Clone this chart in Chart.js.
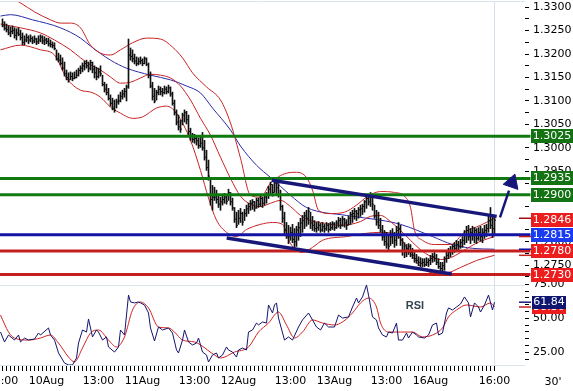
<!DOCTYPE html>
<html lang="en">
<head>
<meta charset="UTF-8">
<title>30' chart with Bollinger bands and RSI</title>
<script src="https://cdn.jsdelivr.net/npm/chart.js"></script>
<style>
  html, body { margin: 0; padding: 0; background: #fff; }
  #wrap { width: 573px; height: 391px; }
</style>
</head>
<body>
<div id="wrap"><canvas id="priceChart" width="573" height="391"></canvas></div>
<script>
// --- price bars (30 min), bar 0 = 9Aug 13:00, bar 246 = 16Aug 16:00 ---
const highs = [
  1.3275,1.3269,1.3264,1.3260,1.3258,1.3260,1.3256,1.3254,1.3256,1.3251,
  1.3245,1.3239,1.3243,1.3239,1.3241,1.3237,1.3239,1.3234,1.3239,1.3241,
  1.3239,1.3237,1.3234,1.3234,1.3230,1.3226,1.3224,1.3209,1.3202,1.3198,
  1.3192,1.3183,1.3166,1.3160,1.3162,1.3160,1.3162,1.3166,1.3170,1.3175,
  1.3181,1.3185,1.3187,1.3183,1.3187,1.3183,1.3175,1.3172,1.3170,1.3175,
  1.3155,1.3140,1.3136,1.3127,1.3113,1.3106,1.3102,1.3104,1.3113,1.3119,
  1.3123,1.3127,1.3134,1.3232,1.3213,1.3209,1.3200,1.3194,1.3192,1.3194,
  1.3190,1.3194,1.3192,1.3181,1.3162,1.3140,1.3127,1.3123,1.3132,1.3130,
  1.3127,1.3132,1.3130,1.3134,1.3130,1.3119,1.3102,1.3081,1.3070,1.3059,
  1.3074,1.3081,1.3078,1.3070,1.3042,1.3031,1.3029,1.3025,1.3021,1.3023,
  1.3033,1.3016,1.2995,1.2974,1.2935,1.2920,1.2916,1.2910,1.2899,1.2895,
  1.2899,1.2903,1.2899,1.2912,1.2905,1.2893,1.2873,1.2863,1.2867,1.2871,
  1.2863,1.2869,1.2878,1.2882,1.2888,1.2890,1.2886,1.2893,1.2893,1.2897,
  1.2895,1.2899,1.2905,1.2918,1.2927,1.2922,1.2933,1.2929,1.2924,1.2910,
  1.2878,1.2863,1.2841,1.2835,1.2831,1.2837,1.2828,1.2833,1.2841,1.2850,
  1.2856,1.2863,1.2867,1.2873,1.2863,1.2854,1.2845,1.2841,1.2843,1.2839,
  1.2841,1.2837,1.2841,1.2839,1.2841,1.2843,1.2841,1.2845,1.2852,1.2850,
  1.2854,1.2850,1.2847,1.2854,1.2863,1.2867,1.2871,1.2867,1.2873,1.2878,
  1.2880,1.2888,1.2897,1.2901,1.2905,1.2901,1.2878,1.2867,1.2863,1.2850,
  1.2835,1.2824,1.2820,1.2813,1.2824,1.2828,1.2820,1.2833,1.2841,1.2835,
  1.2807,1.2798,1.2794,1.2796,1.2794,1.2786,1.2777,1.2773,1.2768,1.2766,
  1.2764,1.2764,1.2766,1.2764,1.2771,1.2775,1.2777,1.2773,1.2764,1.2756,
  1.2756,1.2768,1.2781,1.2786,1.2790,1.2794,1.2798,1.2803,1.2801,1.2805,
  1.2811,1.2824,1.2833,1.2835,1.2828,1.2833,1.2830,1.2828,1.2830,1.2833,
  1.2828,1.2835,1.2837,1.2856,1.2873,1.2856,1.2854
];
const lows = [
  1.3258,1.3251,1.3247,1.3241,1.3237,1.3243,1.3234,1.3230,1.3239,1.3230,
  1.3220,1.3220,1.3226,1.3222,1.3226,1.3222,1.3224,1.3220,1.3222,1.3226,
  1.3222,1.3220,1.3222,1.3217,1.3215,1.3213,1.3209,1.3187,1.3183,1.3177,
  1.3166,1.3153,1.3145,1.3140,1.3145,1.3143,1.3147,1.3149,1.3153,1.3158,
  1.3162,1.3166,1.3170,1.3162,1.3166,1.3160,1.3149,1.3145,1.3149,1.3153,
  1.3132,1.3119,1.3113,1.3102,1.3089,1.3081,1.3076,1.3085,1.3093,1.3098,
  1.3104,1.3108,1.3100,1.3127,1.3187,1.3183,1.3179,1.3175,1.3177,1.3179,
  1.3175,1.3179,1.3175,1.3149,1.3128,1.3102,1.3096,1.3102,1.3113,1.3113,
  1.3110,1.3115,1.3115,1.3117,1.3110,1.3091,1.3070,1.3049,1.3038,1.3033,
  1.3049,1.3055,1.3051,1.3027,1.3016,1.3012,1.3010,1.3006,1.2999,1.3001,
  1.2995,1.2974,1.2952,1.2931,1.2878,1.2867,1.2888,1.2882,1.2873,1.2867,
  1.2878,1.2882,1.2880,1.2888,1.2878,1.2867,1.2841,1.2830,1.2837,1.2841,
  1.2835,1.2845,1.2854,1.2860,1.2867,1.2869,1.2865,1.2871,1.2873,1.2875,
  1.2873,1.2878,1.2882,1.2892,1.2901,1.2897,1.2905,1.2899,1.2895,1.2867,
  1.2841,1.2813,1.2807,1.2796,1.2803,1.2798,1.2786,1.2790,1.2803,1.2811,
  1.2820,1.2828,1.2833,1.2837,1.2828,1.2824,1.2822,1.2820,1.2824,1.2820,
  1.2822,1.2820,1.2824,1.2820,1.2824,1.2826,1.2824,1.2828,1.2831,1.2828,
  1.2833,1.2831,1.2826,1.2835,1.2837,1.2841,1.2848,1.2845,1.2850,1.2854,
  1.2858,1.2863,1.2871,1.2878,1.2875,1.2867,1.2850,1.2835,1.2828,1.2820,
  1.2803,1.2792,1.2786,1.2781,1.2792,1.2796,1.2788,1.2792,1.2807,1.2792,
  1.2771,1.2766,1.2768,1.2773,1.2768,1.2764,1.2756,1.2754,1.2749,1.2747,
  1.2747,1.2747,1.2749,1.2747,1.2751,1.2756,1.2758,1.2751,1.2743,1.2734,
  1.2732,1.2739,1.2756,1.2764,1.2768,1.2773,1.2777,1.2781,1.2781,1.2786,
  1.2788,1.2794,1.2798,1.2803,1.2796,1.2803,1.2798,1.2796,1.2803,1.2801,
  1.2798,1.2807,1.2811,1.2820,1.2828,1.2809,1.2815
];
const closes = [
  1.3260,1.3255,1.3252,1.3245,1.3248,1.3250,1.3240,1.3245,1.3242,1.3235,
  1.3225,1.3230,1.3235,1.3230,1.3233,1.3228,1.3232,1.3226,1.3230,1.3236,
  1.3228,1.3230,1.3227,1.3222,1.3220,1.3218,1.3212,1.3190,1.3187,1.3180,
  1.3170,1.3158,1.3150,1.3145,1.3152,1.3148,1.3150,1.3155,1.3165,1.3170,
  1.3175,1.3180,1.3175,1.3170,1.3182,1.3168,1.3160,1.3152,1.3162,1.3158,
  1.3135,1.3125,1.3118,1.3105,1.3095,1.3085,1.3080,1.3098,1.3100,1.3110,
  1.3115,1.3120,1.3130,1.3198,1.3195,1.3190,1.3185,1.3180,1.3184,1.3186,
  1.3180,1.3190,1.3178,1.3155,1.3132,1.3110,1.3100,1.3118,1.3125,1.3120,
  1.3118,1.3125,1.3120,1.3128,1.3115,1.3095,1.3075,1.3055,1.3045,1.3040,
  1.3070,1.3075,1.3060,1.3035,1.3025,1.3018,1.3020,1.3015,1.3005,1.3010,
  1.3000,1.2980,1.2958,1.2940,1.2890,1.2895,1.2895,1.2890,1.2880,1.2885,
  1.2890,1.2895,1.2886,1.2905,1.2885,1.2872,1.2848,1.2835,1.2850,1.2860,
  1.2842,1.2860,1.2870,1.2875,1.2882,1.2885,1.2872,1.2888,1.2880,1.2892,
  1.2882,1.2895,1.2900,1.2912,1.2922,1.2905,1.2925,1.2915,1.2900,1.2875,
  1.2850,1.2825,1.2815,1.2810,1.2820,1.2805,1.2800,1.2825,1.2830,1.2840,
  1.2845,1.2855,1.2850,1.2865,1.2840,1.2835,1.2828,1.2830,1.2835,1.2825,
  1.2832,1.2828,1.2835,1.2826,1.2830,1.2838,1.2830,1.2840,1.2845,1.2835,
  1.2848,1.2840,1.2835,1.2850,1.2858,1.2860,1.2865,1.2860,1.2868,1.2870,
  1.2875,1.2885,1.2892,1.2885,1.2900,1.2880,1.2855,1.2842,1.2835,1.2825,
  1.2810,1.2800,1.2795,1.2790,1.2810,1.2815,1.2803,1.2824,1.2828,1.2803,
  1.2781,1.2777,1.2786,1.2790,1.2777,1.2771,1.2764,1.2760,1.2756,1.2754,
  1.2756,1.2751,1.2756,1.2760,1.2764,1.2768,1.2764,1.2756,1.2747,1.2743,
  1.2749,1.2764,1.2771,1.2777,1.2781,1.2790,1.2786,1.2794,1.2790,1.2798,
  1.2803,1.2815,1.2824,1.2811,1.2820,1.2813,1.2824,1.2807,1.2820,1.2811,
  1.2820,1.2824,1.2828,1.2845,1.2835,1.2828,1.2846
];

// --- Bollinger bands and moving average (bar index, price) ---
const upperBars = [-1,4,9,16,24,29,34,39,44,49,54,59,65,72,79,85,90,95,102,109,114,119,124,129,134,142,147,152,155,158,164,171,177,182,189,196,201,204,206,210,216,224,231,239,246];
const upperVals = [1.3324,1.3320,1.3309,1.3290,1.3273,1.3266,1.3266,1.3256,1.3219,1.3202,1.3198,1.3209,1.3224,1.3234,1.3232,1.3215,1.3192,1.3160,1.3130,1.3102,1.3053,1.2978,1.2899,1.2895,1.2925,1.2946,1.2948,1.2937,1.2910,1.2867,1.2860,1.2863,1.2878,1.2895,1.2907,1.2905,1.2897,1.2873,1.2824,1.2803,1.2794,1.2794,1.2820,1.2835,1.2850];
const midBars = [-1,9,19,26,34,39,44,49,54,59,64,69,74,79,84,89,94,99,104,109,114,119,124,129,134,139,144,149,154,159,164,169,174,179,184,189,194,199,204,209,214,219,224,229,234,239,246];
const midVals = [1.3264,1.3256,1.3245,1.3230,1.3209,1.3192,1.3177,1.3166,1.3151,1.3138,1.3140,1.3149,1.3157,1.3155,1.3149,1.3132,1.3102,1.3063,1.3027,1.2980,1.2935,1.2897,1.2880,1.2875,1.2882,1.2888,1.2875,1.2856,1.2845,1.2841,1.2837,1.2835,1.2837,1.2843,1.2854,1.2856,1.2843,1.2824,1.2803,1.2783,1.2769,1.2762,1.2766,1.2777,1.2790,1.2801,1.2811];
const lowBars = [-1,9,19,26,32,39,44,49,54,59,65,70,77,82,87,94,99,103,107,112,117,122,129,135,140,144,150,155,160,172,182,189,195,199,204,209,215,222,229,237,246];
const lowVals = [1.3209,1.3219,1.3209,1.3198,1.3149,1.3123,1.3119,1.3108,1.3087,1.3074,1.3063,1.3066,1.3085,1.3089,1.3074,1.3016,1.2952,1.2893,1.2846,1.2820,1.2811,1.2826,1.2837,1.2841,1.2837,1.2796,1.2777,1.2788,1.2803,1.2811,1.2818,1.2820,1.2818,1.2807,1.2775,1.2747,1.2734,1.2734,1.2745,1.2760,1.2771];
const maBars = [-1,4,15,29,39,44,54,62,74,84,92,99,105,114,119,127,134,139,144,152,172,189,199,215,225,235,246];
const maVals = [1.3281,1.3284,1.3273,1.3256,1.3234,1.3217,1.3187,1.3170,1.3155,1.3145,1.3132,1.3117,1.3085,1.3038,1.3004,1.2963,1.2937,1.2918,1.2899,1.2873,1.2856,1.2846,1.2837,1.2811,1.2794,1.2786,1.2784];

// --- RSI and its signal line ---
const rsiBars = [-1,1,3,6,8,9,11,13,16,18,19,23,24,26,28,31,33,35,37,38,40,42,43,45,47,48,50,52,53,56,58,59,61,63,64,66,68,69,71,73,74,76,78,80,83,85,87,88,90,91,93,95,97,98,100,102,103,105,107,108,110,112,113,115,117,118,120,122,123,125,127,128,130,132,133,135,136,137,138,141,143,145,148,150,153,155,157,159,161,163,166,168,170,173,175,177,178,180,182,183,185,187,188,190,192,193,195,197,198,200,202,203,205,207,208,211,213,215,217,218,220,222,223,225,227,229,231,233,234,236,238,239,241,243,245,246];
const rsiVals = [39.9,32.6,37.7,34.0,37.7,32.6,35.5,34.0,34.8,39.2,37.7,42.9,37.7,34.0,24.5,17.1,15.7,15.7,20.8,31.8,41.4,39.9,49.5,36.3,41.4,39.9,34.0,36.3,28.9,25.2,28.9,41.4,37.7,67.1,62.0,61.3,62.0,61.3,59.8,53.9,42.9,33.3,43.6,41.4,42.9,39.2,26.7,24.5,34.0,41.4,32.6,30.4,31.8,35.5,25.2,23.0,17.9,23.0,24.5,20.8,23.0,28.9,26.7,25.2,21.5,26.7,28.2,26.7,39.9,41.4,46.5,45.1,47.3,46.5,59.8,53.9,59.8,61.3,50.2,34.0,36.3,34.0,43.6,48.8,53.9,48.8,43.6,41.4,46.5,43.6,43.6,52.4,50.2,51.0,58.3,64.9,61.3,65.7,74.5,67.1,51.0,48.8,42.9,37.7,36.3,39.9,39.2,46.5,34.0,34.0,39.2,35.5,39.9,37.7,36.3,35.5,37.7,45.1,46.5,37.7,39.2,53.9,57.6,56.1,58.3,60.5,65.7,61.3,51.0,61.3,58.3,54.6,59.8,67.1,56.1,61.84];
const sigBars = [-1,3,6,13,19,24,28,33,36,40,44,48,53,57,61,65,69,73,78,83,86,90,96,99,106,109,116,123,128,133,138,142,146,150,155,160,166,170,175,179,183,187,189,193,199,205,210,215,220,223,227,232,239,244,246];
const sigVals = [52.4,39.9,35.5,34.0,35.5,37.7,31.8,21.5,17.9,28.2,39.2,41.4,34.0,28.9,36.3,56.1,62.0,57.6,43.6,42.9,39.9,34.0,32.6,30.4,23.0,20.8,25.2,28.9,39.9,46.5,54.6,45.1,35.5,39.9,48.8,46.5,45.1,47.3,53.9,61.3,64.9,58.3,46.5,39.9,39.9,39.9,36.3,37.7,42.9,51.0,56.1,59.8,58.3,61.3,58.3];

// --- levels, channel and projection arrow ---
const levelVals = [1.3025, 1.2935, 1.2900, 1.2815, 1.2780, 1.2730];
const boxVals = [1.3025, 1.2935, 1.2900, 1.2846, 1.2815, 1.2780, 1.2730];
const chanUpperBars = [134.6, 247.1];
const chanUpperVals = [1.2931, 1.2854];
const chanLowerBars = [112.1, 224.6];
const chanLowerVals = [1.2808, 1.2731];
const arrowBars = [248.75, 253.25];
const arrowVals = [1.2852, 1.2909];
const arrowHead = { bar: 254.75, val: 1.2926 };

// --- time axis labels ---
const xLabelBars = [0, 22, 48, 70, 96, 118, 144, 166, 192, 214, 246];
const xLabelText = ['13:00', '10Aug', '13:00', '11Aug', '13:00', '12Aug', '13:00', '13Aug', '13:00', '16Aug', '16:00'];

// colours
const GREEN = '#107a10', GREEN_BOX = '#137313';
const RED = '#c41f1f', RED_BOX = '#ec1d1d';
const BLUE = '#1414a4', BLUE_BOX = '#1a3cf0';
const NAVY = '#17177a';
const levelColors = [GREEN, GREEN, GREEN, BLUE, RED, RED];
const boxColors = [GREEN_BOX, GREEN_BOX, GREEN_BOX, RED_BOX, BLUE_BOX, RED_BOX, RED_BOX];

const pts = (xs, ys) => xs.map((x, i) => ({ x: x, y: ys[i] }));

const hourTicks = [];
for (let b = 0; b <= 246; b += 2) hourTicks.push(b);
const priceTicks = [];
for (let k = 0; k <= 23; k++) priceTicks.push(Math.round((1.2725 + k * 0.0025) * 10000) / 10000);
const rsiTicks = [20, 25, 30, 35, 40, 45, 50, 55, 60, 65, 70, 75];

Chart.defaults.font.family = "'DejaVu Sans', sans-serif";
Chart.defaults.font.size = 11;
Chart.defaults.color = '#000';

const line = (data, color, width, extra) => Object.assign({
  type: 'line', data: data, borderColor: color, borderWidth: width,
  pointRadius: 0, fill: false
}, extra || {});

const decor = {
  id: 'decor',
  beforeDatasetsDraw(chart) {
    const { ctx, chartArea } = chart;
    const rsi = chart.scales.rsi;
    ctx.save();
    ctx.strokeStyle = '#dbe5ec';
    ctx.lineWidth = 1;
    [chartArea.top - 0.5, rsi.top + 2.5, rsi.bottom + 0.5].forEach(y => {
      ctx.beginPath();
      ctx.moveTo(0, y);
      ctx.lineTo(chartArea.right, y);
      ctx.stroke();
    });
    ctx.restore();
  },
  afterDraw(chart) {
    const { ctx } = chart;
    const py = chart.scales.y, rsi = chart.scales.rsi;
    ctx.save();

    // short markers of the last indicator values
    const marks = [
      [upperVals, '#a01010', py], [midVals, RED, py], [lowVals, RED, py],
      [maVals, BLUE, py], [rsiVals, NAVY, rsi], [sigVals, RED, rsi]
    ];
    ctx.lineWidth = 1.5;
    marks.forEach(([vals, color, scale]) => {
      const y = scale.getPixelForValue(vals[vals.length - 1]);
      ctx.strokeStyle = color;
      ctx.beginPath();
      ctx.moveTo(519, y);
      ctx.lineTo(531, y);
      ctx.stroke();
    });

    ctx.font = "11px 'DejaVu Sans'";
    ctx.textAlign = 'center';
    ctx.textBaseline = 'middle';
    boxVals.forEach((v, i) => {
      const y = Math.round(py.getPixelForValue(v));
      ctx.fillStyle = boxColors[i];
      ctx.fillRect(531, y - 7, 42, 14);
      ctx.fillStyle = '#fff';
      ctx.fillText(v.toFixed(4), 552, y + 0.5);
    });

    const sigLast = sigVals[sigVals.length - 1];
    const rsiLast = rsiVals[rsiVals.length - 1];
    let y = Math.round(rsi.getPixelForValue(sigLast));
    ctx.fillStyle = RED_BOX;
    ctx.fillRect(532, y - 6, 34, 13);
    ctx.fillStyle = '#fff';
    ctx.fillText(sigLast.toFixed(2), 549, y + 0.5);
    y = Math.round(rsi.getPixelForValue(rsiLast));
    ctx.fillStyle = '#0e1670';
    ctx.fillRect(532, y - 6, 34, 13);
    ctx.fillStyle = '#fff';
    ctx.fillText(rsiLast.toFixed(2), 549, y + 0.5);

    ctx.font = "bold 11px 'Liberation Sans'";
    ctx.fillStyle = '#34444f';
    ctx.fillText('RSI', 415, rsi.top + 23);

    ctx.font = "11px 'DejaVu Sans'";
    ctx.fillStyle = '#000';
    ctx.fillText("30'", 553, 382);
    ctx.restore();
  }
};

new Chart(document.getElementById('priceChart').getContext('2d'), {
  data: {
    datasets: [
      { type: 'scatter', data: [{ x: arrowHead.bar, y: arrowHead.val }], pointStyle: 'triangle',
        pointRotation: 19, pointRadius: 9, pointBackgroundColor: NAVY, pointBorderColor: NAVY,
        pointBorderWidth: 1, clip: false },
      line(pts(arrowBars, arrowVals), NAVY, 2.5, { clip: false }),
      line(pts(chanUpperBars, chanUpperVals), NAVY, 3.5),
      line(pts(chanLowerBars, chanLowerVals), NAVY, 3.5),
      ...levelVals.map((v, i) => line([{ x: -1.25, y: v }, { x: 264, y: v }], levelColors[i], 3,
        { clip: { left: 0, top: 0, right: 6, bottom: 0 } })),
      { type: 'scatter', data: pts(closes.map((c, i) => i), closes), pointStyle: 'dash',
        pointRadius: 1.5, pointBorderWidth: 1, pointBorderColor: '#111', pointBackgroundColor: '#111' },
      { type: 'bar', data: highs.map((h, i) => ({ x: i, y: [lows[i], h] })), backgroundColor: '#111',
        borderWidth: 0, barThickness: 1 },
      line(pts(upperBars, upperVals), '#c82424', 1, { cubicInterpolationMode: 'monotone' }),
      line(pts(midBars, midVals), '#c82424', 1, { cubicInterpolationMode: 'monotone' }),
      line(pts(lowBars, lowVals), '#c82424', 1, { cubicInterpolationMode: 'monotone' }),
      line(pts(maBars, maVals), '#2a2aa8', 1, { cubicInterpolationMode: 'monotone' }),
      line(pts(rsiBars, rsiVals), '#14146e', 1, { yAxisID: 'rsi' }),
      line(pts(sigBars, sigVals), '#d02424', 1, { yAxisID: 'rsi', cubicInterpolationMode: 'monotone' })
    ]
  },
  options: {
    responsive: false,
    animation: false,
    devicePixelRatio: 1,
    events: [],
    layout: { autoPadding: false, padding: { top: 2, right: 0, bottom: 0, left: 0 } },
    plugins: { legend: { display: false }, tooltip: { enabled: false } },
    scales: {
      x: {
        type: 'linear', min: -1.25, max: 261.25, offset: false,
        grid: {
          offset: false, drawOnChartArea: true, tickLength: 6, tickColor: '#000',
          color: c => (c.tick && c.tick.value === 246) ? '#d5e1ea' : 'rgba(0,0,0,0)'
        },
        border: { display: false },
        ticks: {
          autoSkip: false, maxRotation: 0, minRotation: 0, padding: 4, color: '#000',
          callback: v => { const k = xLabelBars.indexOf(v); return k >= 0 ? xLabelText[k] : ''; }
        },
        afterBuildTicks: s => { s.ticks = hourTicks.map(v => ({ value: v })); },
        afterFit: s => { s.height = 26; s.paddingLeft = 0; s.paddingRight = 0; }
      },
      y: {
        type: 'linear', position: 'right', stack: 'panes', stackWeight: 281,
        min: 1.2712, max: 1.3311,
        grid: { drawOnChartArea: false, tickLength: 4, color: '#000' },
        border: { display: false },
        ticks: {
          autoSkip: false, padding: 4, color: '#000',
          callback: v => (Math.round(v * 10000) % 50 === 0) ? v.toFixed(4) : ''
        },
        afterBuildTicks: s => { s.ticks = priceTicks.map(v => ({ value: v })); },
        afterFit: s => { s.width = 48; s.paddingTop = 0; s.paddingBottom = 0; }
      },
      rsi: {
        type: 'linear', position: 'right', stack: 'panes', stackWeight: 82,
        min: 15.66, max: 75.96,
        grid: { drawOnChartArea: false, tickLength: 4, color: '#000' },
        border: { display: false },
        ticks: {
          autoSkip: false, padding: 4, color: '#000',
          callback: v => (v % 25 === 0) ? v.toFixed(2) : ''
        },
        afterBuildTicks: s => { s.ticks = rsiTicks.map(v => ({ value: v })); },
        afterFit: s => { s.width = 48; s.paddingTop = 0; s.paddingBottom = 0; }
      }
    }
  },
  plugins: [decor]
});
</script>
</body>
</html>
